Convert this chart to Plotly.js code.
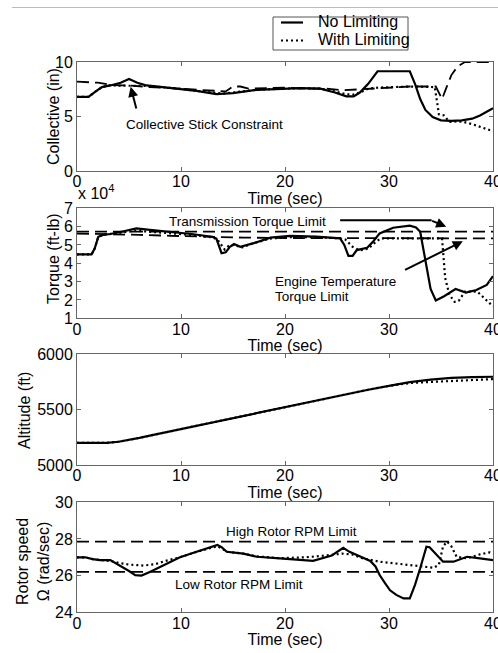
<!DOCTYPE html>
<html><head><meta charset="utf-8">
<script src="https://cdn.plot.ly/plotly-3.0.1.min.js"></script>
<style>html,body{margin:0;padding:0;background:#fff;}#chart{width:498px;height:653px;}</style>
</head><body><div id="chart"></div>
<script>
// ---------- DATA ----------
const seriesNames = ['No Limiting', 'With Limiting'];
const timeTicks = [0, 10, 20, 30, 40];
const collectiveTicks = [0, 5, 10];
const torqueTicks = [1, 2, 3, 4, 5, 6, 7];
const altitudeTicks = [5000, 5500, 6000];
const rotorTicks = [24, 26, 28, 30];

// Panel 1: Collective (in)
const colNoLimT = [0, 1.1, 1.8, 2.4, 3.2, 4.2, 5.0, 5.8, 6.7, 8.0, 9.9, 11.5, 13.4, 15.0, 17.3, 19.5, 21.5, 23.4, 24.8, 25.9, 26.6, 27.2, 28.0, 28.9, 32.0, 32.5, 33.0, 33.5, 34.2, 35.0, 36.0, 37.0, 38.0, 38.75, 39.4, 40];
const colNoLim  = [6.8, 6.8, 7.3, 7.7, 7.85, 8.1, 8.45, 8.1, 7.85, 7.7, 7.55, 7.35, 7.05, 7.15, 7.45, 7.55, 7.6, 7.55, 7.2, 6.85, 6.85, 7.2, 8.0, 9.15, 9.15, 8.0, 6.6, 5.6, 4.95, 4.65, 4.6, 4.65, 4.8, 5.1, 5.4, 5.75];
const colLimT = [0, 1.1, 1.8, 2.4, 3.0, 4.0, 5.0, 6.0, 6.7, 8.0, 9.9, 11.5, 13.0, 14.0, 15.0, 17.3, 19.5, 21.5, 23.4, 24.8, 25.8, 26.5, 27.2, 28.0, 29.0, 30.0, 32.0, 34.4, 34.6, 34.8, 35.3, 35.8, 36.5, 37.2, 38.0, 38.75, 39.5, 40];
const colLim  = [6.8, 6.8, 7.3, 7.7, 7.85, 7.85, 7.85, 7.85, 7.8, 7.7, 7.55, 7.35, 7.2, 7.1, 7.2, 7.45, 7.55, 7.6, 7.55, 7.3, 7.05, 7.0, 7.2, 7.55, 7.65, 7.7, 7.75, 7.7, 6.5, 5.2, 5.1, 4.5, 4.55, 4.5, 4.3, 4.05, 3.8, 3.65];
const colConstraintT = [0, 2, 3, 4, 5, 7, 10, 13, 14.3, 15.0, 15.7, 16.5, 18, 20, 22, 24, 25.5, 26.5, 28, 30, 32, 34.5, 35.1, 35.5, 36.0, 36.6, 37.3, 40];
const colConstraint  = [8.2, 8.1, 7.95, 7.85, 7.85, 7.7, 7.55, 7.35, 7.3, 7.75, 7.75, 7.55, 7.6, 7.65, 7.55, 7.55, 7.4, 7.45, 7.55, 7.65, 7.75, 7.75, 6.6, 7.6, 8.8, 9.6, 10, 10];

// Panel 2: Torque (ft-lb, x 10^4)
const trqNoLimT = [0, 1.4, 1.7, 2.05, 2.5, 3.2, 4.5, 5.7, 7.0, 8.9, 11, 13.0, 13.4, 13.9, 14.3, 14.7, 15.1, 15.7, 17.0, 18.6, 20.5, 23, 25.3, 25.7, 26.1, 26.5, 26.9, 27.9, 28.5, 29.1, 30.4, 32.0, 32.6, 33.0, 33.3, 33.6, 34.0, 34.5, 35.3, 36.4, 37.4, 38.4, 39.4, 40];
const trqNoLim  = [4.49, 4.49, 4.8, 5.45, 5.55, 5.6, 5.75, 5.9, 5.82, 5.72, 5.6, 5.45, 5.35, 4.55, 4.6, 4.9, 5.05, 4.9, 5.1, 5.4, 5.5, 5.45, 5.36, 5.0, 4.4, 4.4, 4.72, 4.85, 5.2, 5.63, 5.94, 6.05, 5.95, 5.72, 4.8, 3.73, 2.6, 1.97, 2.2, 2.6, 2.4, 2.54, 2.82, 3.3];
const trqLimT = [0, 1.4, 1.7, 2.05, 2.5, 3.2, 4.5, 5.7, 7.0, 8.9, 11, 13.0, 13.5, 14.2, 14.6, 15.0, 15.4, 15.8, 17.0, 18.6, 20.5, 23, 25.3, 25.8, 26.5, 27.2, 28.0, 28.6, 29.2, 31, 33, 35.1, 35.4, 35.8, 36.3, 36.7, 37.3, 38.5, 40];
const trqLim  = [4.49, 4.49, 4.8, 5.45, 5.55, 5.6, 5.7, 5.78, 5.72, 5.65, 5.55, 5.42, 5.3, 4.75, 4.95, 5.0, 4.95, 4.85, 5.1, 5.35, 5.42, 5.42, 5.36, 5.3, 4.9, 4.7, 4.8, 5.1, 5.36, 5.36, 5.36, 5.36, 3.2, 2.3, 1.9, 1.95, 2.45, 2.45, 1.65];
const transLimitT = [0, 40];
const transLimit  = [5.73, 5.73];
const engineLimitT = [0, 3, 6, 9, 12, 16, 20, 30, 40];
const engineLimit  = [5.62, 5.6, 5.55, 5.5, 5.45, 5.4, 5.38, 5.36, 5.36];

// Panel 3: Altitude (ft)
const altT = [0, 2.85, 4, 5, 6, 7, 8, 10, 12, 14, 16, 18, 20, 22, 24, 26, 28, 30, 32, 34, 36, 38, 40];
const altNoLim = [5200, 5200, 5210, 5225, 5245, 5265, 5285, 5320, 5360, 5400, 5440, 5480, 5520, 5560, 5600, 5640, 5680, 5715, 5748, 5772, 5787, 5794, 5797];
const altLim   = [5200, 5200, 5210, 5225, 5245, 5265, 5285, 5320, 5360, 5400, 5440, 5480, 5520, 5560, 5600, 5640, 5680, 5715, 5740, 5750, 5758, 5766, 5776];

// Panel 4: Rotor speed (rad/sec)
const rpmNoLimT = [0, 0.8, 1.5, 2.2, 3.2, 4.0, 5.0, 5.6, 6.2, 7.0, 8.5, 9.9, 11.5, 13.0, 13.5, 13.9, 14.4, 16.0, 17.3, 19.5, 22.7, 24.5, 25.6, 26.2, 26.9, 28.2, 28.7, 29.1, 29.6, 30.1, 30.7, 31.4, 32.0, 32.5, 33.0, 33.6, 33.9, 34.3, 35.2, 36.2, 37.5, 38.75, 40];
const rpmNoLim  = [27.0, 27.0, 26.9, 26.85, 26.85, 26.6, 26.25, 26.03, 26.0, 26.2, 26.6, 27.0, 27.3, 27.6, 27.67, 27.55, 27.3, 27.2, 27.03, 26.94, 26.81, 27.1, 27.52, 27.3, 27.12, 26.8, 26.5, 26.03, 25.6, 25.2, 24.95, 24.76, 24.76, 25.5, 26.4, 27.58, 27.55, 27.3, 26.76, 26.76, 27.03, 26.94, 26.85];
const rpmLimT = [0, 0.8, 1.5, 2.2, 3.2, 4.0, 5.0, 6.4, 7.5, 8.5, 9.9, 11.5, 13.0, 13.5, 14.0, 14.5, 16.0, 17.3, 19.5, 22.0, 24.3, 25.5, 26.5, 27.5, 29.1, 30.5, 32.3, 33.5, 34.3, 34.8, 35.2, 35.6, 36.0, 36.5, 37.5, 38.75, 39.7, 40];
const rpmLim  = [27.0, 27.0, 26.9, 26.85, 26.8, 26.7, 26.6, 26.55, 26.62, 26.8, 27.0, 27.3, 27.55, 27.6, 27.45, 27.3, 27.2, 27.05, 26.95, 27.0, 27.12, 27.2, 27.15, 26.94, 26.76, 26.68, 26.58, 26.5, 26.43, 26.6, 27.6, 27.85, 27.6, 27.03, 26.94, 27.16, 27.27, 27.2];
const highLimitT = [0, 40];
const highLimit  = [27.85, 27.85];
const lowLimitT = [0, 40];
const lowLimit  = [26.2, 26.2];

// ---------- STYLE ----------
const FONT = 'Liberation Sans, Arial, sans-serif';
const solid  = {color: '#000', width: 2.2, dash: 'solid'};
const dotted = {color: '#000', width: 2.2, dash: '2px,3px'};
const dashed = {color: '#000', width: 1.8, dash: '12px,6px'};

function tr(x, y, line, xa, ya, name) {
  return {x: x, y: y, type: 'scatter', mode: 'lines', line: line, xaxis: xa, yaxis: ya,
          name: name || '', showlegend: false, hoverinfo: 'skip'};
}

const traces = [
  tr(colNoLimT, colNoLim, solid, 'x', 'y', seriesNames[0]),
  tr(colLimT, colLim, dotted, 'x', 'y', seriesNames[1]),
  tr(colConstraintT, colConstraint, dashed, 'x', 'y'),
  tr(transLimitT, transLimit, dashed, 'x2', 'y2'),
  tr(engineLimitT, engineLimit, dashed, 'x2', 'y2'),
  tr(trqNoLimT, trqNoLim, solid, 'x2', 'y2', seriesNames[0]),
  tr(trqLimT, trqLim, dotted, 'x2', 'y2', seriesNames[1]),
  tr(altT, altNoLim, solid, 'x3', 'y3', seriesNames[0]),
  tr(altT, altLim, dotted, 'x3', 'y3', seriesNames[1]),
  tr(highLimitT, highLimit, dashed, 'x4', 'y4'),
  tr(lowLimitT, lowLimit, dashed, 'x4', 'y4'),
  tr(rpmNoLimT, rpmNoLim, solid, 'x4', 'y4', seriesNames[0]),
  tr(rpmLimT, rpmLim, dotted, 'x4', 'y4', seriesNames[1])
];

const H = 653, L = 77, PW = 416;
function dom(topPx, botPx) { return [(H - botPx) / H, (H - topPx) / H]; }
function xp(px) { return (px - L) / PW; }
function yp(py) { return (H - py) / H; }

const axisLine = {showline: true, linecolor: '#666', linewidth: 1, mirror: 'ticks', ticks: 'inside',
  ticklen: 4, tickcolor: '#666', showgrid: false, zeroline: false, ticklabeloverflow: 'allow',
  tickfont: {family: FONT, size: 16, color: '#000'}};

function xax(anchor) {
  return Object.assign({}, axisLine, {domain: [0, 1], anchor: anchor, range: [0, 40], tickvals: timeTicks,
    ticklabelstandoff: -4,
    title: {text: 'Time (sec)', font: {family: FONT, size: 16, color: '#000'}, standoff: 3}});
}
function yax(anchor, d, range, ticks) {
  return Object.assign({}, axisLine, {domain: d, anchor: anchor, range: range, tickvals: ticks});
}

const annFont = {family: FONT, size: 13.5, color: '#000'};
const titleFont = {family: FONT, size: 16, color: '#000'};

const layout = {
  width: 498, height: 653,
  margin: {l: L, r: 498 - L - PW, t: 0, b: 0},
  paper_bgcolor: '#fff', plot_bgcolor: '#fff',
  font: {family: FONT, color: '#000'},
  showlegend: false,
  xaxis: xax('y'),
  yaxis: yax('x', dom(62, 171), [0, 10], collectiveTicks),
  xaxis2: xax('y2'),
  yaxis2: yax('x2', dom(208.3, 318.3), [1, 7], torqueTicks),
  xaxis3: xax('y3'),
  yaxis3: yax('x3', dom(354.3, 465), [5000, 6000], altitudeTicks),
  xaxis4: xax('y4'),
  yaxis4: yax('x4', dom(502.3, 612.3), [24, 30], rotorTicks),
  shapes: [
    // thin page rule at the top
    {type: 'line', xref: 'paper', yref: 'paper', x0: xp(12), x1: xp(498),
     y0: yp(7.5), y1: yp(7.5), line: {color: '#bbb', width: 1}},
    // legend box and samples
    {type: 'rect', xref: 'paper', yref: 'paper', x0: xp(273), x1: xp(408), y0: yp(50), y1: yp(17),
     line: {color: '#555', width: 1}, fillcolor: '#fff', layer: 'above'},
    {type: 'line', xref: 'paper', yref: 'paper', x0: xp(281), x1: xp(303), y0: yp(22.5), y1: yp(22.5),
     line: solid},
    {type: 'line', xref: 'paper', yref: 'paper', x0: xp(281), x1: xp(303), y0: yp(40.5), y1: yp(40.5),
     line: dotted},
    // horizontal part of the transmission-limit arrow
    {type: 'line', xref: 'x2', yref: 'y2', x0: 25.3, x1: 34.1, y0: 6.35, y1: 6.35,
     line: {color: '#000', width: 2}}
  ],
  annotations: [
    // legend texts
    {xref: 'paper', yref: 'paper', x: xp(316), y: yp(22), text: seriesNames[0], showarrow: false,
     font: titleFont, xanchor: 'left', yanchor: 'middle'},
    {xref: 'paper', yref: 'paper', x: xp(316), y: yp(40), text: seriesNames[1], showarrow: false,
     font: titleFont, xanchor: 'left', yanchor: 'middle'},
    // y-axis titles
    {xref: 'paper', yref: 'paper', x: xp(53), y: yp(117), text: 'Collective (in)', textangle: -90,
     showarrow: false, font: titleFont, xanchor: 'center', yanchor: 'middle'},
    {xref: 'paper', yref: 'paper', x: xp(53), y: yp(259), text: 'Torque (ft-lb)', textangle: -90,
     showarrow: false, font: titleFont, xanchor: 'center', yanchor: 'middle'},
    {xref: 'paper', yref: 'paper', x: xp(25), y: yp(411), text: 'Altitude (ft)', textangle: -90,
     showarrow: false, font: titleFont, xanchor: 'center', yanchor: 'middle'},
    {xref: 'paper', yref: 'paper', x: xp(33), y: yp(562), text: 'Rotor speed<br>Ω (rad/sec)', textangle: -90,
     showarrow: false, font: titleFont, xanchor: 'center', yanchor: 'middle'},
    // exponent
    {xref: 'paper', yref: 'paper', x: xp(76), y: yp(192), text: 'x 10<sup>4</sup>', showarrow: false,
     font: titleFont, xanchor: 'left', yanchor: 'middle'},
    // panel 1
    {xref: 'x', yref: 'y', x: 12.3, y: 4.28, text: 'Collective Stick Constraint', showarrow: false, font: annFont},
    {xref: 'x', yref: 'y', axref: 'x', ayref: 'y', x: 5.16, y: 7.73, ax: 5.74, ay: 5.6, text: '',
     showarrow: true, arrowhead: 2, arrowsize: 1, arrowwidth: 2, arrowcolor: '#000'},
    // panel 2
    {xref: 'x2', yref: 'y2', x: 16.4, y: 6.3, text: 'Transmission Torque Limit', showarrow: false, font: annFont},
    {xref: 'x2', yref: 'y2', axref: 'x2', ayref: 'y2', x: 35.5, y: 6.0, ax: 34.0, ay: 6.35, text: '',
     showarrow: true, arrowhead: 2, arrowsize: 1, arrowwidth: 2, arrowcolor: '#000'},
    {xref: 'x2', yref: 'y2', x: 18.88, y: 3.0, text: 'Engine Temperature', showarrow: false,
     font: annFont, xanchor: 'left', yanchor: 'middle'},
    {xref: 'x2', yref: 'y2', x: 18.88, y: 2.18, text: 'Torque Limit', showarrow: false,
     font: annFont, xanchor: 'left', yanchor: 'middle'},
    {xref: 'x2', yref: 'y2', axref: 'x2', ayref: 'y2', x: 37.1, y: 5.2, ax: 31.4, ay: 3.6, text: '',
     showarrow: true, arrowhead: 2, arrowsize: 1, arrowwidth: 2, arrowcolor: '#000'},
    // panel 4
    {xref: 'x4', yref: 'y4', x: 20.64, y: 28.4, text: 'High Rotor RPM Limit', showarrow: false, font: annFont},
    {xref: 'x4', yref: 'y4', x: 15.6, y: 25.53, text: 'Low Rotor RPM Limit', showarrow: false, font: annFont}
  ]
};

Plotly.newPlot('chart', traces, layout, {displayModeBar: false, staticPlot: true});
</script></body></html>
